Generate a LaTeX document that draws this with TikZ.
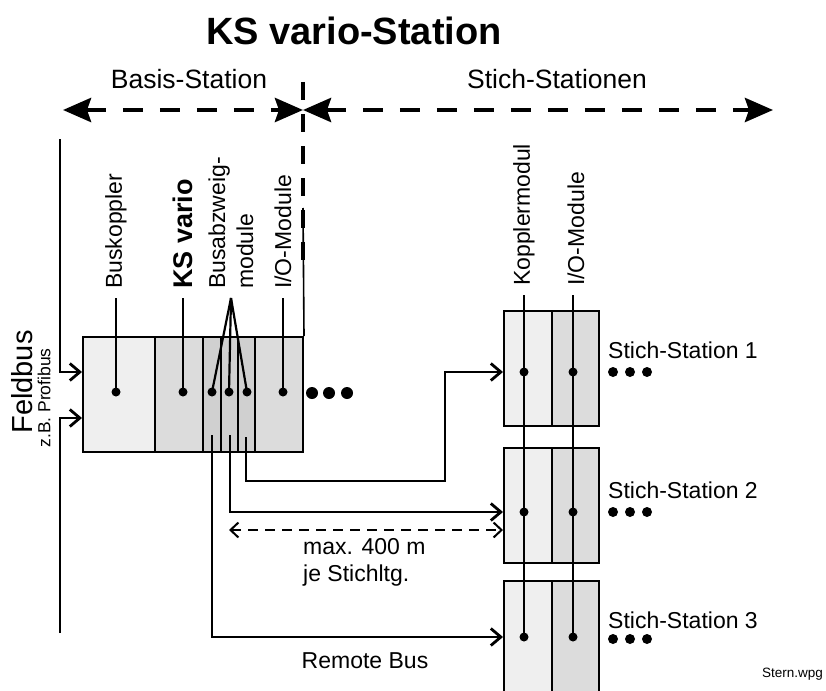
\documentclass[tikz,border=0pt]{standalone}
\usepackage{fontspec}
\setmainfont{Liberation Sans}
\usepackage{xcolor}
\usepackage{tikz}
\usetikzlibrary{arrows.meta}

\definecolor{modlight}{HTML}{EFEFEF}
\definecolor{modmid}{HTML}{DCDCDC}
\definecolor{moddark}{HTML}{D0D0D0}

\begin{document}
\begin{tikzpicture}[
    x=1pt,y=-1pt,
    mod/.style={draw, line width=2pt, inner sep=0pt, minimum height=115pt},
    vlabel/.style={rotate=90, anchor=west, inner ysep=0pt, inner xsep=9pt,
                   font=\fontsize{23}{28}\selectfont},
    txt/.style={inner sep=0pt, font=\fontsize{23}{26.5}\selectfont},
    pin/.style={line width=2.2pt},
    bus/.style={line width=2.8pt, -{Straight Barb[length=10pt,width=17pt]}},
    span/.style={line width=4.5pt, dash pattern=on 20pt off 17pt,
                 {Stealth[length=28pt,width=24pt,inset=4pt]}-{Stealth[length=28pt,width=24pt,inset=4pt]}},
    meas/.style={line width=2pt, dash pattern=on 10pt off 7pt,
                 {Straight Barb[length=8pt,width=15pt]}-{Straight Barb[length=8pt,width=15pt]}},
    dot/.style={circle, fill, inner sep=0pt, minimum size=9pt}
]
\path[use as bounding box, clip] (0,0) rectangle (826,690);

% Title and ranges
\node[anchor=base, inner sep=0pt, font=\fontsize{38}{44}\selectfont\bfseries] (title) at (354,45) {KS vario-Station};
\node[anchor=base, inner sep=0pt, font=\fontsize{26.5}{30}\selectfont] (basis) at (189,89) {Basis-Station};
\node[anchor=base, inner sep=0pt, font=\fontsize{26.5}{30}\selectfont] (stich) at (557,89) {Stich-Stationen};
\coordinate (spanL) at (63,110);
\coordinate (spanM) at (303,110);
\coordinate (spanR) at (773,110);
\draw[span] (spanL) -- (spanM);
\draw[span] (spanM) -- (spanR);
\coordinate (divtop) at (303,82);
\coordinate (divbot) at (303,268);
\coordinate (divmid) at (303,208);
\draw[line width=4.5pt, dash pattern=on 18pt off 14pt] (divtop) -- (divbot);

% Basis station modules
\node[mod, fill=modlight, minimum width=72pt] (bk) at (119,394.5) {};
\node[mod, fill=modmid, minimum width=48pt] (ksv) at (179,394.5) {};
\node[mod, fill=moddark, minimum width=18pt] (ba1) at (212,394.5) {};
\node[mod, fill=moddark, minimum width=17pt] (ba2) at (229.5,394.5) {};
\node[mod, fill=moddark, minimum width=17pt] (ba3) at (246.5,394.5) {};
\node[mod, fill=modmid, minimum width=48pt] (io) at (279,394.5) {};
\draw[line width=1.6pt] (io.north east) -- (divmid);

% Stich stations
\node[mod, fill=modlight, minimum width=48pt] (s1k) at (528,368.5) {};
\node[mod, fill=modmid, minimum width=47pt] (s1i) at (575.5,368.5) {};
\node[mod, fill=modlight, minimum width=48pt] (s2k) at (528,505.5) {};
\node[mod, fill=modmid, minimum width=47pt] (s2i) at (575.5,505.5) {};
\node[mod, fill=modlight, minimum width=48pt] (s3k) at (528,638.5) {};
\node[mod, fill=modmid, minimum width=47pt] (s3i) at (575.5,638.5) {};

% Module labels
\node[vlabel] (lbk) at (116,298) {Buskoppler};
\node[vlabel, font=\fontsize{27}{31}\selectfont\bfseries] (lks) at (183,298) {KS vario};
\node[vlabel, align=left] (lba) at (231,298) {Busabzweig-\\module};
\node[vlabel] (lio) at (283,298) {I/O-Module};
\node[vlabel] (lkm) at (524,295) {Kopplermodul};
\node[vlabel] (lsio) at (576,295) {I/O-Module};

% Contact points
\node[dot] (dbk) at (116,392) {};
\node[dot] (dks) at (183,392) {};
\node[dot] (dba1) at (212,392) {};
\node[dot] (dba2) at (229,392) {};
\node[dot] (dba3) at (247,392) {};
\node[dot] (dio) at (283,392) {};
\node[dot] (ds1k) at (524,372) {};
\node[dot] (ds1i) at (573,372) {};
\node[dot] (ds2k) at (524,512) {};
\node[dot] (ds2i) at (573,512) {};
\node[dot] (ds3k) at (524,637) {};
\node[dot] (ds3i) at (573,637) {};
\draw[pin] (dbk.center) -- (dbk |- lbk.west);
\draw[pin] (dks.center) -- (dks |- lks.west);
\foreach \d in {dba1,dba2,dba3}
    \draw[pin] (\d.center) -- (lba.west);
\draw[pin] (dio.center) -- (dio |- lio.west);
\draw[pin] (ds3k.center) -- (ds3k |- lkm.west);
\draw[pin] (ds3i.center) -- (ds3i |- lsio.west);

% more modules
\foreach \x in {312,329,347}
    \fill (\x,393) circle (6pt);
\foreach \y in {372,512,639}
    \foreach \x in {613,630,647}
        \fill (\x,\y) circle (5pt);

% Feldbus
\node[rotate=90, inner sep=0pt, font=\fontsize{29}{33}\selectfont] (feld) at (22,382) {Feldbus};
\node[rotate=90, inner sep=0pt, font=\fontsize{17.5}{21}\selectfont] (zb) at (44,398) {z.B. Profibus};
\coordinate (fbtop) at (60,139);
\coordinate (fbbot) at (60,633);
\draw[bus] (fbtop) |- ([yshift=22.5pt]bk.west);
\draw[bus] (fbbot) |- ([yshift=-23.5pt]bk.west);

% Stichleitungen
\coordinate (ba1o) at (212,435);
\coordinate (ba2o) at (230,435);
\coordinate (ba3o) at (246,437);
\coordinate (bend) at (445,481);
\draw[bus] (ba3o) |- (bend) |- (s1k.west |- ds1k);
\draw[bus] (ba2o) |- (s2k.west |- ds2k);
\draw[bus] (ba1o) |- (s3k.west |- ds3k);
\coordinate (measL) at (229,530);
\draw[meas] (measL) -- (s2k.west |- measL);
\node[txt, align=left, anchor=north west] (maxlen) at (303,538.5) {max. 400 m\\je Stichltg.};
\node[txt, anchor=base] (remote) at (365,668) {Remote Bus};

% Station names
\node[txt, anchor=base west] (st1) at (608,358) {Stich-Station 1};
\node[txt, anchor=base west] (st2) at (608,498) {Stich-Station 2};
\node[txt, anchor=base west] (st3) at (608,628) {Stich-Station 3};
\node[anchor=base east, inner sep=0pt, font=\fontsize{13.5}{16}\selectfont] (fname) at (823,677) {Stern.wpg};
\end{tikzpicture}
\end{document}
